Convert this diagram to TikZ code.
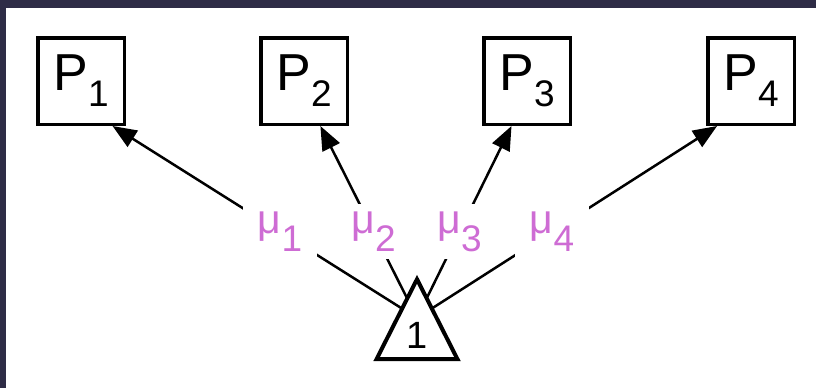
\documentclass[tikz,border=0pt]{standalone}
\usepackage{fontspec}
\setmainfont{Liberation Sans}
\usetikzlibrary{arrows.meta,shapes.geometric}
\definecolor{framebg}{RGB}{46,44,70}
\definecolor{ratecol}{RGB}{206,108,212}
\newcommand{\procname}[1]{P\raisebox{-16pt}{\fontsize{37}{37}\selectfont #1}}
\newcommand{\ratename}[1]{{\fontsize{41}{41}\selectfont μ}\raisebox{-18pt}{#1}}

\begin{document}
\begin{tikzpicture}[x=1pt,y=-1pt,
    proc/.style={draw, line width=3.5pt, minimum size=86.5pt, inner sep=0pt, font=\fontsize{52}{52}\selectfont},
    flow/.style={-{Triangle[length=24pt,width=19pt]}, line width=2.5pt},
    rate/.style={fill=white, text=ratecol, minimum width=74pt, minimum height=55pt, inner sep=0pt, font=\fontsize{37}{37}\selectfont},
    source/.style={draw, fill=white, line width=4pt, isosceles triangle, shape border rotate=90,
      isosceles triangle stretches, minimum width=81pt, minimum height=80pt, inner sep=0pt,
      font=\fontsize{38}{38}\selectfont}]
    % Frame
    \useasboundingbox (0,0) rectangle (816,388);
    \fill[framebg] (0,0) rectangle (816,388);
    \fill[white] (6,8) rectangle (816,388);
    % Processes
    \node[proc] (p1) at (81,81) {\procname{1}};
    \node[proc] (p2) at (304,81) {\procname{2}};
    \node[proc] (p3) at (527,81) {\procname{3}};
    \node[proc] (p4) at (751,81) {\procname{4}};
    % Flows
    \coordinate (hub) at (417,318);
    \draw[flow] (hub) -- node[rate, pos=0.45] {\ratename{1}} (p1.-55);
    \draw[flow] (hub) -- node[rate, pos=0.45] {\ratename{2}} (p2.-70);
    \draw[flow] (hub) -- node[rate, pos=0.45] {\ratename{3}} (p3.-109);
    \draw[flow] (hub) -- node[rate, pos=0.45] {\ratename{4}} (p4.-127);
    % Source
    \node[source, anchor=apex] (src) at (417,274) {1};
\end{tikzpicture}
\end{document}
